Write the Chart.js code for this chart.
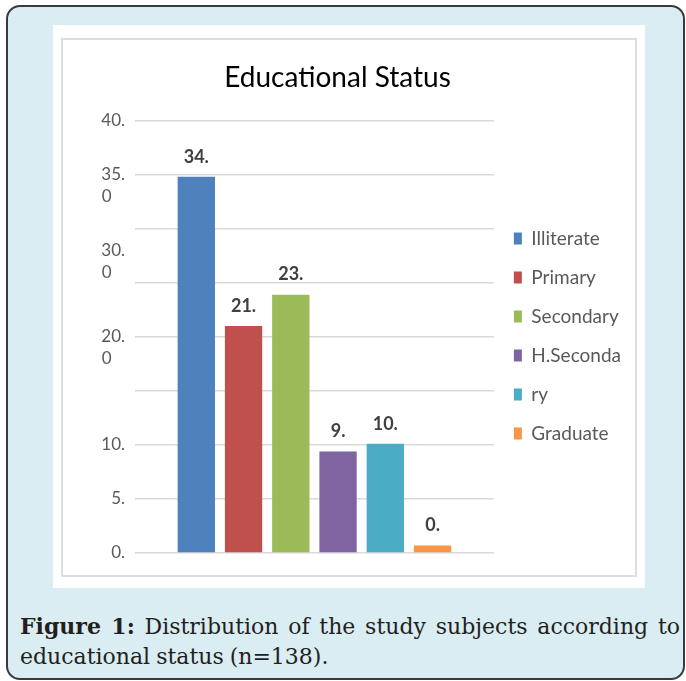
<!DOCTYPE html>
<html>
<head>
<meta charset="utf-8">
<title>Educational Status</title>
<script src="https://cdn.jsdelivr.net/npm/chart.js@4.4.0/dist/chart.umd.min.js"></script>
<style>
    body { margin: 0; background: #fff; width: 686px; height: 681px; overflow: hidden; position: relative; }
    #frame { position: absolute; left: 6px; top: 5px; width: 679px; height: 675px; box-sizing: border-box;
             border: 2px solid #3a3a3a; border-radius: 14px; background: #daedf2; }
    #panel { position: absolute; left: 53px; top: 25px; width: 592px; height: 563px; background: #fff; }
    #chartBox { position: absolute; left: 61px; top: 38px; width: 576px; height: 539px; box-sizing: border-box;
                border: 2px solid #dcdcdc; }
    #chartWrap { position: absolute; left: 44px; top: 39px; width: 593px; height: 538px; }
    #caption { position: absolute; left: 20px; top: 611px; width: 660px; font-family: "DejaVu Serif", serif;
               font-size: 22px; line-height: 30px; word-spacing: -1px; color: #231f20; text-align: justify; }
    #caption b { font-weight: bold; }
</style>
</head>
<body>
<div id="frame"></div>
<div id="panel"></div>
<div id="chartBox"></div>
<div id="chartWrap"><canvas id="eduChart" width="593" height="538"></canvas></div>
<div id="caption"><b>Figure 1:</b> Distribution of the study subjects according to educational status (n=138).</div>

<script>
// Series names as they appear in the legend
const categories = ['Illiterate', 'Primary', 'Secondary', 'H.Seconda', 'ry', 'Graduate'];
// Percent of subjects (n=138)
const percentValues = [34.8, 21.0, 23.9, 9.4, 10.1, 0.7];
const barColors = ['#4f81bd', '#c0504d', '#9bbb59', '#8064a2', '#4bacc6', '#f79646'];

// Y axis ticks and their (truncated) labels
const yTickValues = [0, 5, 10, 15, 20, 25, 30, 35, 40];
const yTickLabels = ['0.', '5.', '10.', '', '20.\n0', '', '30.\n0', '35.\n0', '40.'];

// Blank lines put before some labels so they sit like in the original
const labelLeadLines = { 20: 1, 30: 3, 35: 1 };

// Value labels above each bar
const barValueLabels = {
    id: 'barValueLabels',
    afterDatasetsDraw(chart) {
        const ctx = chart.ctx;
        ctx.save();
        ctx.font = 'bold 18px Lato';
        ctx.fillStyle = '#404040';
        ctx.textAlign = 'center';
        ctx.textBaseline = 'middle';
        chart.data.datasets.forEach((ds, i) => {
            chart.getDatasetMeta(i).data.forEach((bar, j) => {
                ctx.fillText(Math.floor(ds.data[j]) + '.', bar.x, bar.y - 20);
            });
        });
        ctx.restore();
    }
};

const ctx = document.getElementById('eduChart').getContext('2d');
const chart = new Chart(ctx, {
    type: 'bar',
    data: {
        labels: [''],
        datasets: categories.map((name, i) => ({
            label: name,
            data: [percentValues[i]],
            backgroundColor: barColors[i],
            borderWidth: 0,
            categoryPercentage: 0.79,
            barPercentage: 0.79
        }))
    },
    options: {
        responsive: false,
        animation: false,
        layout: {
            padding: { left: 0, right: 6, top: 0, bottom: 24 }
        },
        scales: {
            x: {
                display: false
            },
            y: {
                min: 0,
                max: 40,
                afterFit: function(scale) {
                    scale.width = 91;
                },
                border: { display: false },
                grid: {
                    color: '#d9d9d9',
                    lineWidth: 1.5,
                    drawTicks: false
                },
                ticks: {
                    stepSize: 5,
                    autoSkip: false,
                    padding: 10,
                    color: '#595959',
                    font: { family: 'Lato', size: 17, lineHeight: '22px' },
                    callback: function(value) {
                        const idx = yTickValues.indexOf(value);
                        if (idx < 0) return '';
                        const parts = yTickLabels[idx].split('\n');
                        if (parts.length === 1) return parts[0];
                        // keep the wrapped "0" under the first digit
                        const lines = [parts[0], parts[1] + '\u2007\u2008'];
                        const lead = labelLeadLines[value] || 0;
                        for (let k = 0; k < lead; k++) lines.unshift('');
                        return lines;
                    }
                }
            }
        },
        plugins: {
            title: {
                display: true,
                text: 'Educational Status',
                color: '#000',
                font: { family: 'Lato', size: 28, weight: 'normal', lineHeight: 1.2 },
                padding: { top: 22, bottom: 26 }
            },
            legend: {
                position: 'right',
                // empty legend title only pushes the items down
                title: {
                    display: true,
                    text: ' ',
                    font: { size: 10, lineHeight: 1 },
                    padding: { top: 35, bottom: 35 }
                },
                labels: {
                    boxWidth: 8,
                    boxHeight: 12,
                    padding: 20,
                    color: '#595959',
                    font: { family: 'Lato', size: 19 }
                }
            },
            tooltip: { enabled: false }
        }
    },
    plugins: [barValueLabels]
});
</script>
</body>
</html>
